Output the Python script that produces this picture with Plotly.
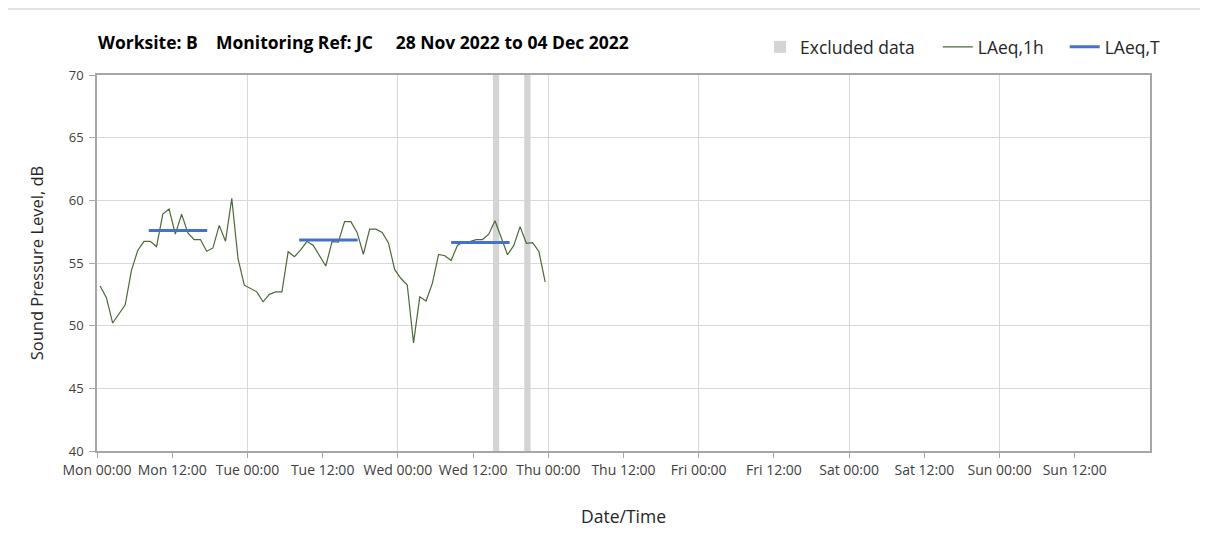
import plotly.graph_objects as go
import pandas as pd

# ---- data ----
start_time = "2022-11-28 00:30"
laeq_1h = [53.16, 52.23, 50.21, 50.9, 51.66, 54.42, 56.0, 56.73, 56.73, 56.31,
           58.9, 59.3, 57.3, 58.9, 57.4, 56.87, 56.87, 55.94, 56.2, 58.0,
           56.73, 60.16, 55.34, 53.23, 52.97, 52.7, 51.9, 52.5, 52.7, 52.7,
           55.9, 55.5, 56.05, 56.73, 56.4, 55.6, 54.76, 56.7, 56.66, 58.3,
           58.3, 57.44, 55.7, 57.7, 57.7, 57.44, 56.6, 54.47, 53.76, 53.24,
           48.63, 52.3, 51.97, 53.37, 55.68, 55.58, 55.2, 56.4, 56.7, 56.7,
           56.87, 56.87, 57.3, 58.37, 57.05, 55.66, 56.4, 57.9, 56.57, 56.63,
           55.92, 53.5]
laeq_1h_times = pd.date_range(start_time, periods=len(laeq_1h), freq="h")

laeq_T_start = ["2022-11-28 08:15", "2022-11-29 08:15", "2022-11-30 08:30"]
laeq_T_end = ["2022-11-28 17:35", "2022-11-29 17:35", "2022-11-30 17:50"]
laeq_T_value = [57.6, 56.84, 56.63]

excluded_start = ["2022-11-30 15:10", "2022-11-30 20:10"]
excluded_hours = [1, 1]

x_range = ["2022-11-28 00:00", "2022-12-05 00:00"]
tick_vals = pd.date_range("2022-11-28 00:00", "2022-12-04 12:00", freq="12h")
y_ticks = [40, 45, 50, 55, 60, 65, 70]

title_text = "Worksite: B    Monitoring Ref: JC     28 Nov 2022 to 04 Dec 2022"

# ---- figure ----
FONT = "Open Sans"
fig = go.Figure()

fig.add_trace(go.Bar(
    x=excluded_start, y=[30] * len(excluded_start), base=40,
    width=[h * 3600000 for h in excluded_hours], offset=0,
    marker=dict(color="#d4d4d4", line=dict(width=0)),
    name="Excluded data", hoverinfo="skip", legend="legend"))

fig.add_trace(go.Scatter(
    x=laeq_1h_times, y=laeq_1h, mode="lines", name="LAeq,1h",
    line=dict(color="#4a6b37", width=1.2), legend="legend2"))

tx, ty = [], []
for s, e, v in zip(laeq_T_start, laeq_T_end, laeq_T_value):
    tx += [s, e, None]
    ty += [v, v, None]
fig.add_trace(go.Scatter(
    x=tx, y=ty, mode="lines", name="LAeq,T",
    line=dict(color="#4472c4", width=3), legend="legend3"))

leg_common = dict(orientation="h", xanchor="left", y=1.0745, yanchor="middle",
                  font=dict(size=17.5, color="#262626", family=FONT),
                  bgcolor="rgba(0,0,0,0)", borderwidth=0)

fig.update_layout(
    width=1208, height=556,
    margin=dict(l=89, r=66, t=67, b=113),
    paper_bgcolor="white", plot_bgcolor="white",
    font=dict(family=FONT, color="#404040", size=13),
    barmode="overlay",
    showlegend=True,
    legend=dict(x=0.6297, **leg_common),
    legend2=dict(x=0.7985, **leg_common),
    legend3=dict(x=0.9190, **leg_common),
    annotations=[dict(text="<b>" + title_text + "</b>", xref="paper", yref="paper",
                      x=-0.001, y=1.0878, xanchor="left", yanchor="middle", showarrow=False,
                      font=dict(size=17.5, color="#000000", family=FONT))],
)

fig.update_xaxes(
    type="date", range=x_range, automargin=False,
    tickvals=tick_vals, tickformat="%a %H:%M",
    ticks="outside", ticklen=5, tickcolor="#a6a6a6",
    showgrid=False,
    minor=dict(dtick=86400000, tick0="2022-11-28", showgrid=True, gridcolor="#d9d9d9",
               gridwidth=1, ticks=""),
    showline=True, linecolor="#a6a6a6", linewidth=1.5, mirror=True,
    tickfont=dict(size=14, color="#404040"),
    title=dict(text="Date/Time", font=dict(size=17.5, color="#262626"), standoff=33),
    zeroline=False,
)
fig.update_yaxes(
    range=[40, 70], tickvals=y_ticks, automargin=False,
    ticks="outside", ticklen=6, tickcolor="#a6a6a6", ticklabelstandoff=3,
    showgrid=True, gridcolor="#d9d9d9", gridwidth=1,
    showline=True, linecolor="#a6a6a6", linewidth=1.5, mirror=True,
    tickfont=dict(size=13, color="#404040"),
    title=dict(text="Sound Pressure Level, dB", font=dict(size=16.5, color="#262626"), standoff=21),
    zeroline=False,
)

# outer chart frame (top and right edges visible in reference)
fig.add_shape(type="line", xref="paper", yref="paper", x0=-0.09, x1=1.0532, y0=1.1755, y1=1.1755,
              line=dict(color="#d9d9d9", width=1.5))
fig.add_shape(type="line", xref="paper", yref="paper", x0=1.0532, x1=1.0532, y0=-0.3, y1=1.1755,
              line=dict(color="#d9d9d9", width=1.5))

fig.write_html("out.html")
